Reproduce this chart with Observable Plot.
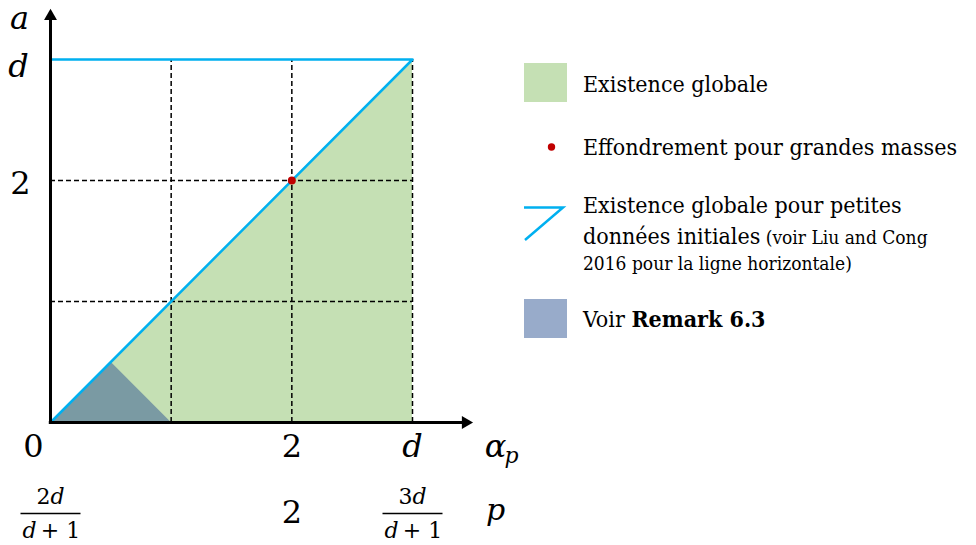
<!DOCTYPE html>
<html><head><meta charset="utf-8">
<script src="https://cdn.jsdelivr.net/npm/d3@7"></script>
<script src="https://cdn.jsdelivr.net/npm/@observablehq/plot@0.6"></script>
<style>
body{margin:0;background:#fff;}
#wrap{position:relative;width:976px;height:545px;}
#wrap svg{position:absolute;left:0;top:0;}
</style></head><body><div id="wrap"></div>
<script>
// ---- data ----
const greenRegion = [{x: 0, y: 0}, {x: 3, y: 3}];                 // area under diagonal, x in [0,3]
const remarkRegion = [{x: 0, y: 0}, {x: 0.5, y: 0.5}, {x: 1, y: 0}];
const blueLine = [{x: 0, y: 0}, {x: 3, y: 3}, {x: 0, y: 3}];
const collapsePoint = [{x: 2, y: 2}];
const gridX = [1, 2, 3];
const gridY = [1, 2];
const xAxisEnd = 3.44, yAxisEnd = 3.357;
const alphaOrigin = [{x: 0, t: "0"}];
const alphaNumbers = [{x: 2, t: "2"}];
const alphaLetters = [{x: 3, t: "d"}];
const pLabels = [{x: 2, t: "2"}];
const pFractions = [{x: 0, num: "2", den: "d + 1"}, {x: 3, num: "3", den: "d + 1"}];
const yNumbers = [{y: 2, t: "2"}];
const yLetters = [{y: 3, t: "d"}];
const legendLabels = ["Existence globale", "Effondrement pour grandes masses",
  "Existence globale pour petites", "données initiales", " (voir Liu and Cong",
  "2016 pour la ligne horizontale)", "Voir ", "Remark 6.3"];

const GREEN = "#c5e0b4", TRI = "#7a9aa3", BLUE = "#00b0f0", RED = "#c00000", LEGTRI = "#98abca";
const MATH = "'DejaVu Serif', serif";
const TXT = "'DejaVu Serif Condensed', 'DejaVu Serif', serif";

const barSymbol = {draw(ctx) { ctx.moveTo(-30, 0); ctx.lineTo(30, 0); }};
const zero = () => 0;

const chart = Plot.plot({
  width: 976, height: 545, margin: 0,
  x: {domain: [0, 3], range: [50, 412], axis: null},
  y: {domain: [0, 3], range: [422, 59], axis: null},
  style: {fontFamily: MATH, background: "white"},
  marks: [
    Plot.areaY(greenRegion, {x: "x", y: "y", fill: GREEN}),
    Plot.areaY(remarkRegion, {x: "x", y: "y", fill: TRI}),
    Plot.ruleX(gridX, {x: d => d, y1: 0, y2: 3, stroke: "black", strokeWidth: 1.5, strokeDasharray: "5,3"}),
    Plot.ruleY(gridY, {y: d => d, x1: 0, x2: 3, stroke: "black", strokeWidth: 1.5, strokeDasharray: "5,3"}),
    Plot.line(blueLine, {x: "x", y: "y", stroke: BLUE, strokeWidth: 2.5}),
    Plot.ruleY([0], {x1: -0.01, x2: xAxisEnd, stroke: "black", strokeWidth: 3}),
    Plot.ruleX([0], {y1: -0.01, y2: yAxisEnd, stroke: "black", strokeWidth: 3}),
    Plot.dot([{x: xAxisEnd, y: 0}], {x: "x", y: "y", symbol: "triangle", r: 4.8, fill: "black", rotate: 90}),
    Plot.dot([{x: 0, y: yAxisEnd}], {x: "x", y: "y", symbol: "triangle", r: 4.8, fill: "black"}),
    Plot.dot(collapsePoint, {x: "x", y: "y", r: 4, fill: RED}),
    // x labels row 1 (alpha_p)
    Plot.text(alphaOrigin, {x: "x", y: zero, text: "t", fontSize: 32, dy: 24, dx: -17}),
    Plot.text(alphaNumbers, {x: "x", y: zero, text: "t", fontSize: 32, dy: 24}),
    Plot.text(alphaLetters, {x: "x", y: zero, text: "t", fontSize: 32, dy: 24, fontStyle: "italic"}),
    Plot.text([{x: xAxisEnd}], {x: "x", y: zero, text: () => "α", fontSize: 32, dy: 24, dx: 30, fontStyle: "italic"}),
    Plot.text([{x: xAxisEnd}], {x: "x", y: zero, text: () => "p", fontSize: 22, dy: 33, dx: 46, fontStyle: "italic"}),
    // x labels row 2 (p)
    Plot.text(pLabels, {x: "x", y: zero, text: "t", fontSize: 32, dy: 90}),
    Plot.text(pFractions, {x: "x", y: zero, text: "num", fontSize: 22, dy: 74, dx: -7}),
    Plot.text(pFractions, {x: "x", y: zero, text: () => "d", fontSize: 22, dy: 74, dx: 7, fontStyle: "italic"}),
    Plot.text(pFractions, {x: "x", y: zero, text: () => "d", fontSize: 22, dy: 108, dx: -21, fontStyle: "italic"}),
    Plot.text(pFractions, {x: "x", y: zero, text: () => "+ 1", fontSize: 22, dy: 108, dx: 10}),
    Plot.dot(pFractions, {x: "x", y: zero, dy: 91, symbol: barSymbol, stroke: "black", strokeWidth: 1.5, r: 5}),
    Plot.text([{x: xAxisEnd}], {x: "x", y: zero, text: () => "p", fontSize: 30, dy: 88, dx: 30, fontStyle: "italic"}),
    // y labels
    Plot.text(yNumbers, {x: zero, y: "y", text: "t", fontSize: 32, dx: -30, dy: 3}),
    Plot.text(yLetters, {x: zero, y: "y", text: "t", fontSize: 32, dx: -32, dy: 7, fontStyle: "italic"}),
    Plot.text([{y: yAxisEnd}], {x: zero, y: "y", text: () => "a", fontSize: 32, dx: -31, dy: 2, fontStyle: "italic"})
  ]
});
document.getElementById("wrap").appendChild(chart);

// ---- legend ----
const leg = d3.select("#wrap").append("svg").attr("width", 976).attr("height", 545)
  .style("font-family", TXT).style("font-stretch", "condensed").style("pointer-events", "none");
leg.append("rect").attr("x", 524).attr("y", 63).attr("width", 43).attr("height", 39).attr("fill", GREEN);
leg.append("text").attr("x", 583).attr("y", 92).attr("font-size", 23).text(legendLabels[0]);
leg.append("circle").attr("cx", 551.5).attr("cy", 147).attr("r", 3.7).attr("fill", RED);
leg.append("text").attr("x", 583).attr("y", 155).attr("font-size", 23).text(legendLabels[1]);
leg.append("path").attr("d", "M524,207.5L563,207.5L525,240").attr("fill", "none").attr("stroke", BLUE).attr("stroke-width", 2.5);
leg.append("text").attr("x", 583).attr("y", 213).attr("font-size", 23).text(legendLabels[2]);
const t2 = leg.append("text").attr("x", 583).attr("y", 244).attr("font-size", 23);
t2.append("tspan").text(legendLabels[3]);
t2.append("tspan").attr("font-size", 19).text(legendLabels[4]);
leg.append("text").attr("x", 583).attr("y", 270).attr("font-size", 19).text(legendLabels[5]);
leg.append("rect").attr("x", 524).attr("y", 299).attr("width", 43).attr("height", 39).attr("fill", LEGTRI);
const t4 = leg.append("text").attr("x", 583).attr("y", 327).attr("font-size", 23);
t4.append("tspan").text(legendLabels[6]);
t4.append("tspan").attr("font-weight", "bold").text(legendLabels[7]);
</script></body></html>
